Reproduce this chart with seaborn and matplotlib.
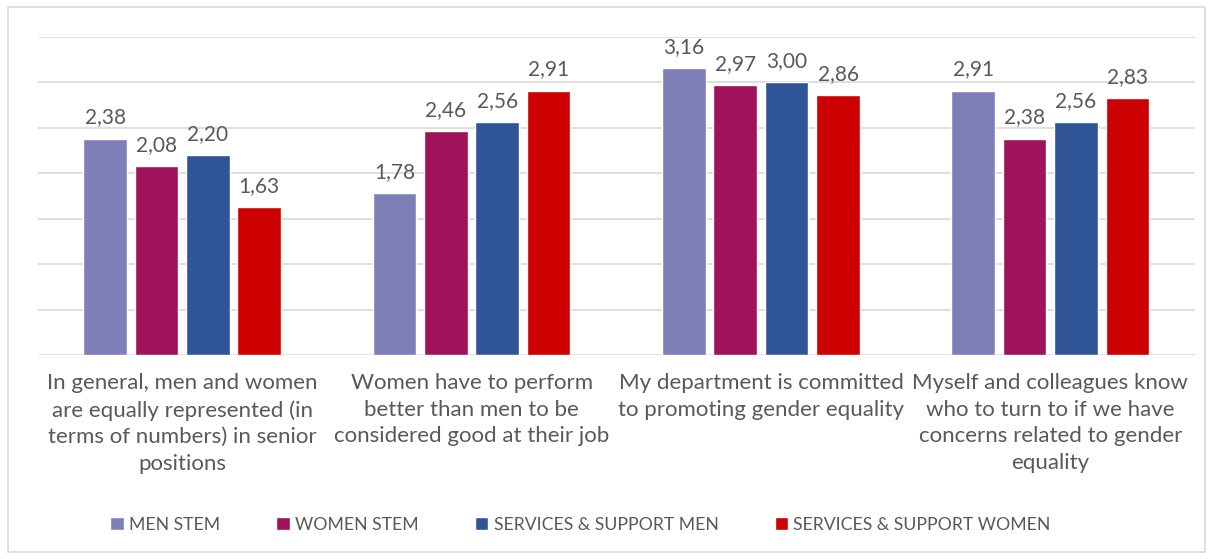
import matplotlib
matplotlib.use("Agg")
import matplotlib.pyplot as plt
import seaborn as sns
import pandas as pd
from matplotlib.patches import Rectangle

# --- data ---
categories = [
    "In general, men and women\nare equally represented (in\nterms of numbers) in senior\npositions",
    "Women have to perform\nbetter than men to be\nconsidered good at their job",
    "My department is committed\nto promoting gender equality",
    "Myself and colleagues know\nwho to turn to if we have\nconcerns related to gender\nequality",
]
groups = ["MEN STEM", "WOMEN STEM", "SERVICES & SUPPORT MEN", "SERVICES & SUPPORT WOMEN"]
men_stem = [2.38, 1.78, 3.16, 2.91]
women_stem = [2.08, 2.46, 2.97, 2.38]
services_men = [2.20, 2.56, 3.00, 2.56]
services_women = [1.63, 2.91, 2.86, 2.83]

colors = ["#7F7FB7", "#A0135B", "#2F5597", "#CC0000"]
text_color = "#595959"

rows = []
for g, vals in zip(groups, [men_stem, women_stem, services_men, services_women]):
    for c, v in zip(categories, vals):
        rows.append({"Question": c, "Group": g, "Score": v})
df = pd.DataFrame(rows)

sns.set_style("white")
plt.rcParams["font.family"] = ["Lato", "DejaVu Sans"]

fig = plt.figure(figsize=(12.12, 5.59), dpi=100)
ax = fig.add_axes([0.031, 0.365, 0.955, 0.569])

sns.barplot(data=df, x="Question", y="Score", hue="Group", order=categories,
            hue_order=groups, palette=colors, width=0.71, gap=0.15,
            saturation=1, errorbar=None, ax=ax, legend=True)

for cont in ax.containers:
    labels = [f"{b.get_height():.2f}".replace(".", ",") for b in cont]
    ax.bar_label(cont, labels=labels, padding=8, fontsize=15, color=text_color)

ax.set_ylim(0, 3.5)
ax.set_yticks([0, 0.5, 1, 1.5, 2, 2.5, 3, 3.5])
ax.set_yticklabels([])
ax.tick_params(axis="y", length=0)
ax.tick_params(axis="x", length=0, pad=13, labelsize=16, labelcolor=text_color)
ax.yaxis.grid(True, color="#D9D9D9", linewidth=1.2)
ax.set_axisbelow(True)
ax.set_xlabel("")
ax.set_ylabel("")
for s in ax.spines.values():
    s.set_visible(False)
for lab in ax.get_xticklabels():
    lab.set_linespacing(1.42)

handles, labels = ax.get_legend_handles_labels()
ax.get_legend().remove()
fig.legend(handles, labels, loc="center", bbox_to_anchor=(0.479, 0.061), ncol=4,
           frameon=False, fontsize=12.7, handlelength=0.75, handleheight=0.75,
           handletextpad=0.3, columnspacing=3.2, labelcolor=text_color)

# outer frame around chart area
fig.patches.append(Rectangle((8 / 1212, 7 / 559), 1197 / 1212, 545 / 559,
                             transform=fig.transFigure, fill=False,
                             edgecolor="#D9D9D9", linewidth=1.2))

fig.savefig("out.png", dpi=100)
